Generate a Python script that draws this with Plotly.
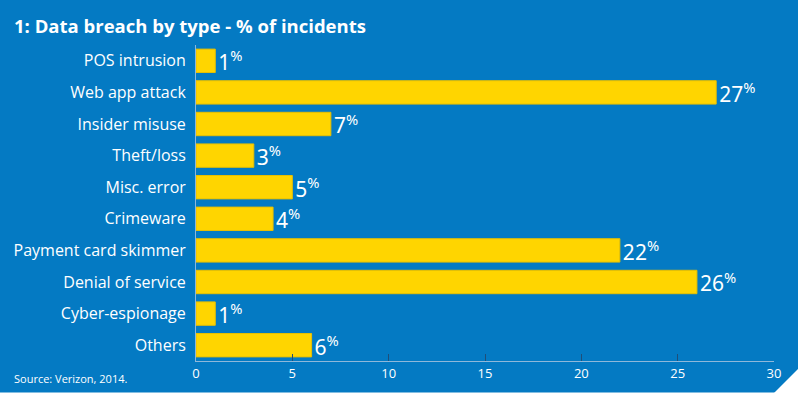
import plotly.graph_objects as go

categories = ["POS intrusion", "Web app attack", "Insider misuse", "Theft/loss", "Misc. error",
              "Crimeware", "Payment card skimmer", "Denial of service", "Cyber-espionage", "Others"]
values = [1, 27, 7, 3, 5, 4, 22, 26, 1, 6]
tick_vals = [0, 5, 10, 15, 20, 25, 30]

BG = "#047AC3"
FONT = "Open Sans"

ML, MR, MT, MB = 196, 26, 45, 34
W, H = 800, 395
pw = W - ML - MR
ph = H - MT - MB


def px_x(x):
    return (x - ML) / pw


def px_y(y):
    return (H - MB - y) / ph


fig = go.Figure(go.Bar(
    x=values, y=categories, orientation="h",
    marker=dict(color="#FFD500", line=dict(color="#E8C000", width=1)),
    text=[f"{v}<sup>%</sup>" for v in values],
    textposition="outside",
    constraintext="none",
    textfont=dict(color="white", size=21, family="Noto Sans"),
    cliponaxis=False,
    width=0.74,
))

fig.update_layout(
    width=W, height=H,
    paper_bgcolor=BG, plot_bgcolor=BG,
    margin=dict(l=ML, r=MR, t=MT, b=MB),
    font=dict(family=FONT, color="white"),
    showlegend=False,
    xaxis=dict(range=[0, 30], tickvals=tick_vals, ticks="inside", ticklen=7,
               tickcolor="#1F4E79", showgrid=False, zeroline=False,
               showline=True, linecolor="#8FB8DA", linewidth=1,
               tickfont=dict(size=13, color="white"), fixedrange=True),
    yaxis=dict(autorange="reversed", showgrid=False, zeroline=False,
               showline=True, linecolor="#8FB8DA", linewidth=1,
               ticks="", ticklabelstandoff=6,
               tickfont=dict(size=16, color="white"), fixedrange=True),
    annotations=[
        dict(text="<b>1: Data breach by type - % of incidents</b>", xref="paper", yref="paper",
             x=px_x(12), y=px_y(25), xanchor="left", yanchor="middle", showarrow=False,
             font=dict(size=18.5, color="white", family=FONT)),
        dict(text="Source: Verizon, 2014.", xref="paper", yref="paper",
             x=px_x(12), y=px_y(378), xanchor="left", yanchor="middle", showarrow=False,
             font=dict(size=11, color="white", family=FONT)),
    ],
    shapes=[
        dict(type="path", xref="paper", yref="paper",
             path=f"M {px_x(771)} {px_y(396)} L {px_x(801)} {px_y(396)} L {px_x(801)} {px_y(366)} Z",
             fillcolor="white", line=dict(width=0), layer="above"),
        dict(type="rect", xref="paper", yref="paper",
             x0=px_x(0), x1=px_x(801), y0=px_y(396), y1=px_y(392.5),
             fillcolor="white", line=dict(width=0), layer="above"),
        dict(type="rect", xref="paper", yref="paper",
             x0=px_x(798), x1=px_x(801), y0=px_y(396), y1=px_y(0),
             fillcolor="white", line=dict(width=0), layer="above"),
    ],
)

fig.write_html("out.html", config={"displayModeBar": False},
               post_script="document.body.style.margin='0';document.body.style.overflow='hidden';")
